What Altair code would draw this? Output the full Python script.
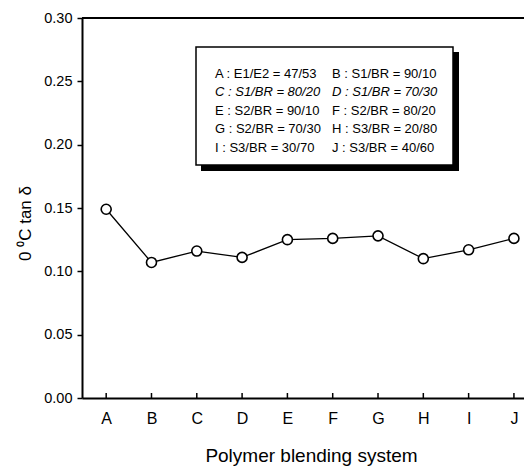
import altair as alt
import pandas as pd

categories = ["A", "B", "C", "D", "E", "F", "G", "H", "I", "J"]
tan_delta = [0.149, 0.107, 0.116, 0.111, 0.125, 0.126, 0.128, 0.110, 0.117, 0.126]
y_ticks = [0.00, 0.05, 0.10, 0.15, 0.20, 0.25, 0.30]

legend_left = ["A : E1/E2 = 47/53", "C : S1/BR = 80/20", "E : S2/BR = 90/10",
               "G : S2/BR = 70/30", "I  : S3/BR = 30/70"]
legend_right = ["B : S1/BR = 90/10", "D : S1/BR = 70/30", "F : S2/BR = 80/20",
                "H : S3/BR = 20/80", "J : S3/BR = 40/60"]
italic_rows = [1]

df = pd.DataFrame({"system": categories, "tan_delta": tan_delta})

W, H = 442, 380
FONT = "Liberation Sans"

x_enc = alt.X(
    "system:N", sort=categories,
    scale=alt.Scale(type="point", padding=0.378, align=0.706),
    axis=alt.Axis(title="Polymer blending system", labelAngle=0, ticks=False,
                  domainColor="black", domainWidth=2, labelFont=FONT,
                  labelFontSize=16, labelColor="black", labelPadding=12,
                  titleFont=FONT, titleFontSize=19, titleFontWeight="normal",
                  titleColor="black", titlePadding=20, titleX=229),
)
y_enc = alt.Y(
    "tan_delta:Q",
    scale=alt.Scale(domain=[0, 0.30], nice=False, zero=True),
    axis=alt.Axis(title="0 \u2070C tan \u03b4", values=y_ticks, format=".2f",
                  grid=False, domainColor="black", domainWidth=2,
                  tickColor="black", tickWidth=1.5, tickSize=5,
                  labelFont=FONT, labelFontSize=14.5, labelColor="black",
                  labelPadding=5, titleFont=FONT, titleFontSize=17,
                  titleFontWeight="normal", titleColor="black",
                  titleX=-57, titleY=205, titleBaseline="middle"),
)

base = alt.Chart(df)
line = base.mark_line(color="black", strokeWidth=1.3).encode(x=x_enc, y=y_enc)
points = base.mark_point(shape="circle", size=100, filled=True, fill="white",
                         stroke="black", strokeWidth=1.6, opacity=1).encode(x=x_enc, y=y_enc)
xticks = base.mark_rule(color="black", strokeWidth=1.5).encode(
    x=x_enc, y=alt.value(H), y2=alt.value(H - 5))
top_border = base.mark_rule(color="black", strokeWidth=2).encode(
    x=alt.value(0), x2=alt.value(W), y=alt.value(0))

# legend box with drop shadow
box_x0, box_x1, box_y0, box_y1 = 114, 371, 29, 147
shadow = alt.Chart(pd.DataFrame({"k": [0]})).mark_rect(color="black").encode(
    x=alt.value(box_x0 + 5), x2=alt.value(box_x1 + 6),
    y=alt.value(box_y0 + 5), y2=alt.value(box_y1 + 6))
box = alt.Chart(pd.DataFrame({"k": [0]})).mark_rect(
    fill="white", stroke="black", strokeWidth=1.5).encode(
    x=alt.value(box_x0), x2=alt.value(box_x1),
    y=alt.value(box_y0), y2=alt.value(box_y1))

texts = []
row_y0, row_dy = 56, 18.4
for i, (lt, rt) in enumerate(zip(legend_left, legend_right)):
    style = "italic" if i in italic_rows else "normal"
    for txt, xx in ((lt, 133), (rt, 250)):
        texts.append(
            alt.Chart(pd.DataFrame({"t": [txt]})).mark_text(
                align="left", baseline="middle", font=FONT, fontSize=13,
                fontStyle=style, color="black").encode(
                x=alt.value(xx), y=alt.value(row_y0 + i * row_dy), text="t:N"))

chart = alt.layer(top_border, xticks, line, points, shadow, box, *texts).properties(
    width=W, height=H,
    padding={"left": 74, "top": 10, "right": 0, "bottom": 70},
    autosize=alt.AutoSizeParams(type="none"),
    background="white",
).configure_view(stroke=None)

chart.save("out.html", embed_options={"renderer": "svg", "actions": False})
